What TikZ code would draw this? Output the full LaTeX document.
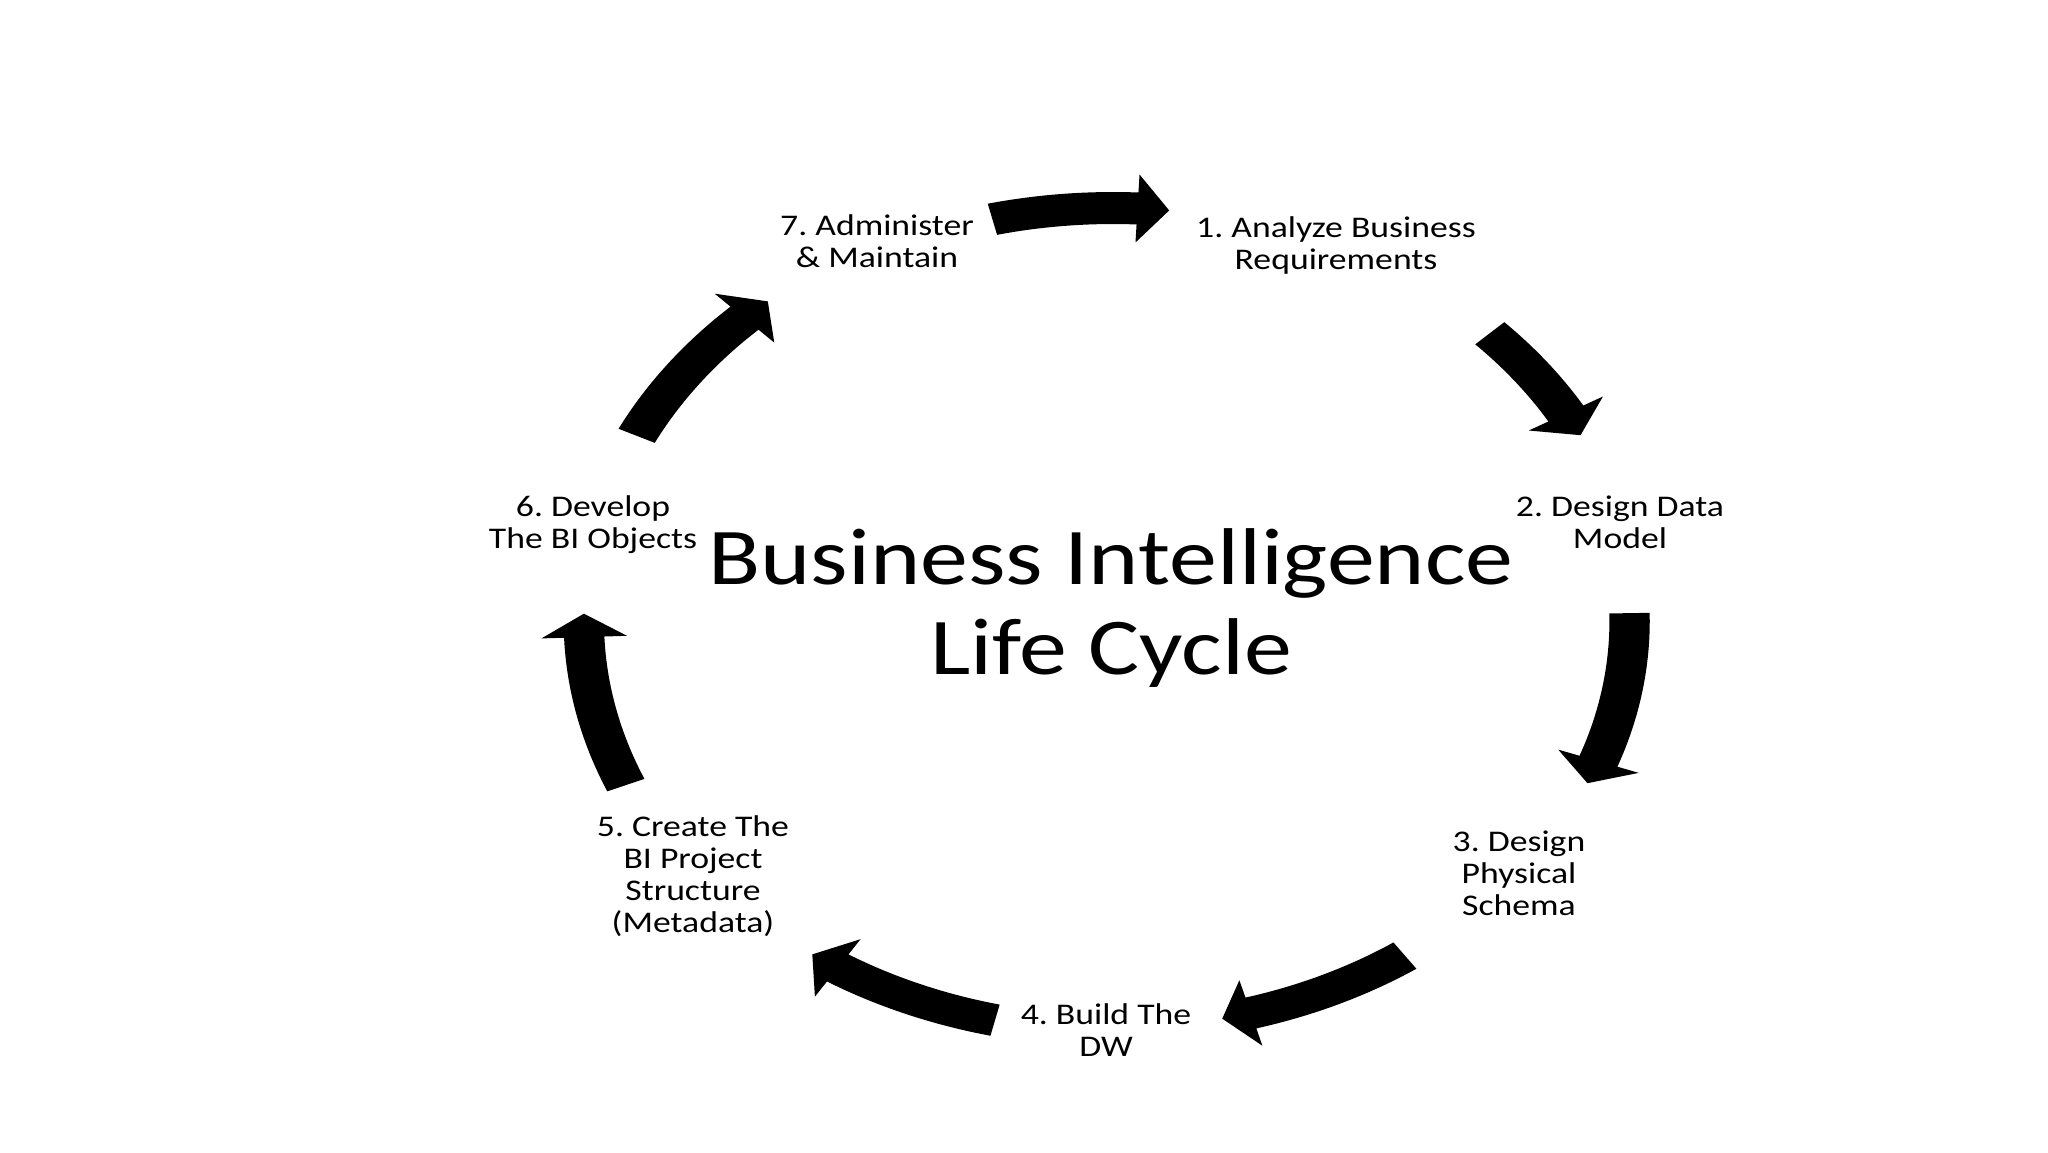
\documentclass[tikz,border=0pt]{standalone}
\usepackage{fontspec}
\setmainfont{Carlito}[FakeStretch=1.19]
\frenchspacing
\newcommand\stk[1]{\begin{tabular}[t]{@{}c@{}}#1\end{tabular}}
% #1 tail angle, #2 head base angle, #3 tip angle, #4 centre radius
\newcommand\cyarrow[4]{%
  \fill[blockarrow] ({#1}:{#4+16}) arc[start angle={#1}, end angle={#2}, radius={#4+16}]
    -- ({#2}:{#4+34}) -- ({#3}:{#4}) -- ({#2}:{#4-34}) -- ({#2}:{#4-16})
    arc[start angle={#2}, end angle={#1}, radius={#4-16}] -- cycle;}
\begin{document}
\begin{tikzpicture}[x=1pt,y=1pt,
  lbl/.style={inner sep=0pt, anchor=base, font=\fontsize{30}{32}\selectfont},
  ttl/.style={inner sep=0pt, anchor=base, font=\fontsize{80.5}{90}\selectfont},
  blockarrow/.style={fill=black}]
\useasboundingbox[fill=white] (0,0) rectangle (2048,-1152);

% labels
\node[lbl] (s7) at (877,-235)  {\stk{7. Administer\\\& Maintain}};
\node[lbl] (s1) at (1336,-237) {\stk{1. Analyze Business\\Requirements}};
\node[lbl] (s2) at (1620,-516) {\stk{2. Design Data\\Model}};
\node[lbl] (s3) at (1519,-851) {\stk{3. Design\\Physical\\Schema}};
\node[lbl] (s4) at (1106,-1024) {\stk{4. Build The\\DW}};
\node[lbl] (s5) at (693,-836)  {\stk{5. Create The\\BI Project\\Structure\\(Metadata)}};
\node[lbl] (s6) at (593,-516)  {\stk{6. Develop\\The BI Objects}};
\node[ttl] (title) at (1111,-584) {\stk{Business Intelligence\\Life Cycle}};

% curved block arrows around the cycle
\begin{scope}[shift={(1113,-621)}, xscale=1.26]
  \coordinate (centre) at (0,0);
  \cyarrow{103.4}{87.3}{83.8}{413}
  \cyarrow{43.9}{30.0}{26.6}{415}
  \cyarrow{1.1}{-20.0}{-23.3}{410}
  \cyarrow{-55.3}{-74.4}{-77.7}{407}
  \cyarrow{-103.2}{-122.2}{-125.6}{410}
  \cyarrow{-157}{-177.8}{-181}{420}
  \cyarrow{153.9}{134}{130.6}{421}
\end{scope}
\end{tikzpicture}
\end{document}
